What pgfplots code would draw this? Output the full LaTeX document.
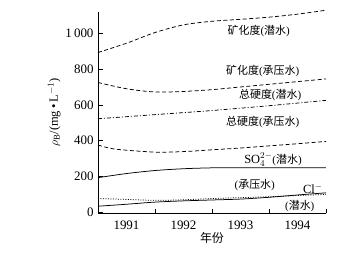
\documentclass[border=0pt]{standalone}
\usepackage{pgfplots}
\pgfplotsset{compat=1.18}
\usepackage{fontspec}
\setmainfont{Liberation Serif}
\newfontfamily\cjk{Noto Sans CJK SC}
\begin{document}
\begin{tikzpicture}
\useasboundingbox (-98bp,-47bp) rectangle (257bp,213bp);
\begin{axis}[
  at={(0,0)}, anchor=south west,
  scale only axis, width=228bp, height=201bp,
  xmin=0, xmax=4, ymin=-6, ymax=1120,
  axis lines=left, axis line style={-, line width=0.7bp},
  clip=false,
  xtick={0.5,1.5,2.5,3.5},
  xticklabels={1991,1992,1993,1994},
  every major x tick/.append style={draw=none},
  minor xtick={1,2,3,4},
  minor tick length=4bp,
  ytick={0,200,400,600,800,1000},
  yticklabels={0,200,400,600,800,1\,000},
  major tick length=5bp,
  tick align=inside,
  tick style={black, line width=0.6bp},
  /pgf/number format/assume math mode=true,
  ticklabel style={font=\fontsize{13}{14}\selectfont},
  xticklabel style={yshift=-4bp},
  yticklabel style={xshift=-1bp},
  xlabel={\cjk 年份},
  xlabel style={font=\fontsize{12}{14}\selectfont, yshift=4bp},
  ylabel={$\rho_{\mathrm{B}}$/(mg\,•\,L$^{-1}$)},
  ylabel style={font=\fontsize{12.5}{14}\selectfont, yshift=-2bp},
  every axis plot/.append style={black, line width=0.75bp, smooth, tension=0.5, mark=none},
]
% 矿化度(潜水)
\addplot[dash pattern=on 4bp off 2.5bp] coordinates {(0,893) (0.5,945) (1,1005) (1.5,1048) (2,1068) (2.5,1079) (3,1091) (3.5,1108) (4,1130)};
% 矿化度(承压水)
\addplot[dash pattern=on 4bp off 2.5bp] coordinates {(0,725) (0.5,690) (1,672) (1.5,675) (2,685) (2.5,700) (3,715) (3.5,730) (4,745)};
% 总硬度(潜水)
\addplot[dash pattern=on 4bp off 2bp on 1bp off 2bp] coordinates {(0,522) (1,545) (2,568) (3,595) (4,625)};
% 总硬度(承压水)
\addplot[dash pattern=on 4bp off 2.5bp] coordinates {(0,375) (0.3,352) (1,335) (1.5,338) (2,348) (2.5,358) (3,370) (3.5,382) (4,395)};
% SO4 (潜水)
\addplot[solid] coordinates {(0,192) (0.5,215) (1,232) (1.5,242) (2,247) (2.5,248) (3,248) (3.5,248) (4,248)};
% Cl (承压水)
\addplot[dash pattern=on 1bp off 1.5bp] coordinates {(0,75) (0.5,70) (1,65) (1.5,68) (2,75) (2.5,80) (3,85) (3.5,92) (4,98)};
% Cl (潜水)
\addplot[solid] coordinates {(0,32) (0.5,43) (1,55) (1.5,62) (2,67) (2.5,72) (3,82) (3.5,95) (4,107)};

\begin{scope}[every node/.style={font=\fontsize{11}{13}\selectfont, inner sep=0pt}]
\node at (axis cs:2.82,1011) {{\cjk 矿化度}({\cjk 潜水})};
\node at (axis cs:2.89,787) {{\cjk 矿化度}({\cjk 承压水})};
\node at (axis cs:3.02,657) {{\cjk 总硬度}({\cjk 潜水})};
\node at (axis cs:2.89,506) {{\cjk 总硬度}({\cjk 承压水})};
\node at (axis cs:3.07,292) {\fontsize{12.5}{13}\selectfont SO$_4^{2-}$\fontsize{11}{13}\selectfont({\cjk 潜水})};
\node at (axis cs:2.75,152) {({\cjk 承压水})};
\node at (axis cs:3.77,129) {\fontsize{12.5}{13}\selectfont Cl$^-$};
\node at (axis cs:3.54,34) {({\cjk 潜水})};
\end{scope}
\end{axis}
\end{tikzpicture}
\end{document}
